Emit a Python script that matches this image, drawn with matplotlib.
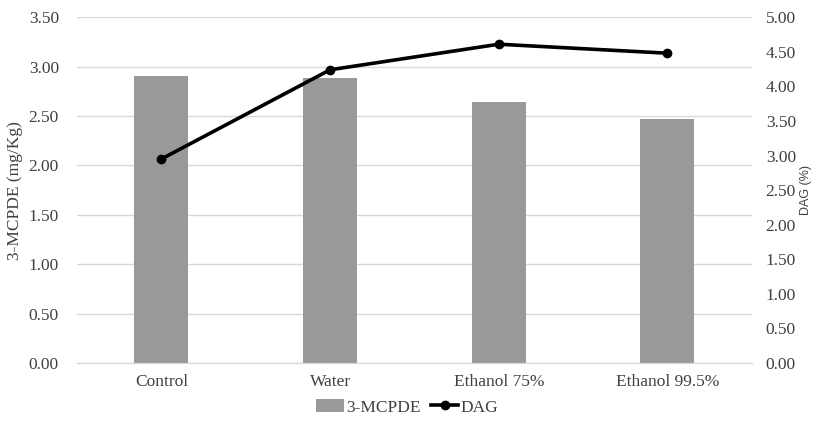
import matplotlib.pyplot as plt
import numpy as np

categories = ["Control", "Water", "Ethanol 75%", "Ethanol 99.5%"]
mcpde = [2.91, 2.89, 2.64, 2.47]
dag = [2.95, 4.24, 4.61, 4.48]
left_ticks = [0.0, 0.5, 1.0, 1.5, 2.0, 2.5, 3.0, 3.5]
right_ticks = [0.0, 0.5, 1.0, 1.5, 2.0, 2.5, 3.0, 3.5, 4.0, 4.5, 5.0]

serif = "Liberation Serif"
fig = plt.figure(figsize=(8.14, 4.29), dpi=100)
ax = fig.add_axes([0.0946, 0.1538, 0.829, 0.806])
ax2 = ax.twinx()

x = np.arange(len(categories))
bars = ax.bar(x, mcpde, width=0.32, color="#999999", label="3-MCPDE", zorder=2)
line, = ax2.plot(x, dag, color="black", linewidth=2.6, marker="o", markersize=6,
                 label="DAG", zorder=3)

ax.set_xlim(-0.5, len(categories) - 0.5)
ax.set_ylim(0, 3.5)
ax2.set_ylim(0, 5)
ax.set_yticks(left_ticks)
ax.set_yticklabels([f"{t:.2f}" for t in left_ticks], family=serif, fontsize=12.5, color="#404040")
ax2.set_yticks(right_ticks)
ax2.set_yticklabels([f"{t:.2f}" for t in right_ticks], family=serif, fontsize=12.5, color="#404040")
ax.set_xticks(x)
ax.set_xticklabels(categories, family=serif, fontsize=12.5, color="#404040")

ax.yaxis.grid(True, color="#d9d9d9", linewidth=1, zorder=0)
ax.set_axisbelow(True)
for a in (ax, ax2):
    for side in ("top", "left", "right"):
        a.spines[side].set_visible(False)
    a.spines["bottom"].set_color("#d9d9d9")
    a.tick_params(length=0)
ax.tick_params(axis="y", pad=13)
ax.tick_params(axis="x", pad=8)
ax2.tick_params(axis="y", pad=10)

ax.set_ylabel("3-MCPDE (mg/Kg)", family=serif, fontsize=12.5, color="#404040", labelpad=4)
ax2.set_ylabel("DAG (%)", family="Liberation Sans", fontsize=9, color="#404040", labelpad=3)

fig.legend([bars, line], ["3-MCPDE", "DAG"], loc="lower center", bbox_to_anchor=(0.5, -0.005),
           ncol=2, frameon=False, prop={"family": serif, "size": 12.5},
           handlelength=1.6, handletextpad=0.1, columnspacing=0.6, labelcolor="#404040")

fig.savefig("out.png", dpi=100)
